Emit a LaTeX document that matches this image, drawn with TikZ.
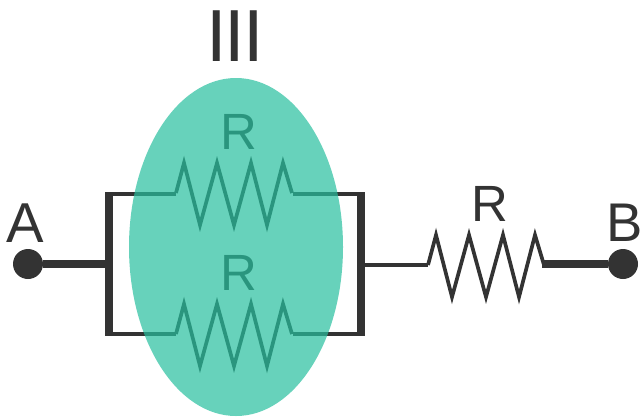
\documentclass[tikz,border=0pt]{standalone}
\usepackage{fontspec}
\setmainfont{Liberation Sans}
\definecolor{wire}{RGB}{51,51,51}
\definecolor{blob}{RGB}{39,191,158}
\tikzset{
	thin wire/.style={draw=wire, line width=2.2pt},
	thick wire/.style={draw=wire, line width=4.4pt},
	zigzag/.style={draw=wire, line width=2.1pt, line join=miter},
	terminal/.style={circle, fill=wire, inner sep=0pt, minimum size=0.6cm},
	letter/.style={text=wire, inner sep=0pt, font=\fontsize{29}{29}\selectfont}
}
\begin{document}
\begin{tikzpicture}[x=0.02cm, y=-0.02cm]
\useasboundingbox (0, 0) rectangle (641, 416);

\node[terminal] (ptA) at (28, 264) {};
\node[terminal] (ptB) at (623, 264) {};
\node[letter, font=\fontsize{32}{32}\selectfont] (lblA) at (25, 223) {A};
\node[letter, font=\fontsize{31}{31}\selectfont] (lblB) at (624.5, 223) {B};
\node[letter] (lblTop) at (239, 132) {R};
\node[letter] (lblBot) at (239, 273) {R};
\node[letter] (lblOut) at (490, 204) {R};
\node[letter, font=\fontsize{42}{42}\selectfont] (lblGroup) at (235, 36) {I\kern-1.3pt I\kern-1.3pt I};

\coordinate (barL) at (109, 264);
\coordinate (barR) at (361, 265);
\coordinate (outIn) at (428, 265);
\coordinate (outEnd) at (542, 264);

\draw[thick wire] (ptA) -- (barL);
\draw[thick wire] (ptB) -- (outEnd);
\draw[thin wire] (barR) -- (outIn);

% parallel box
\draw[thick wire] (109, 192) -- (109, 336);
\draw[thick wire] (361, 192) -- (361, 336);
\foreach \y in {194, 334}
	\draw[thin wire] (109, \y) -- (176, \y) (293, \y) -- (361, \y);

% resistors
\foreach \x/\y in {176/193, 176/334, 428/265}
	\draw[zigzag, shift={(\x, \y)}] (0, 0) -- (8, -30) -- (24, 32) -- (41, -30) -- (58, 32)
		-- (75, -30) -- (91, 32) -- (107, -30) -- (116, 0);

% group
\fill[blob, opacity=0.7] (236, 247) ellipse [x radius=107, y radius=169];
\end{tikzpicture}
\end{document}
